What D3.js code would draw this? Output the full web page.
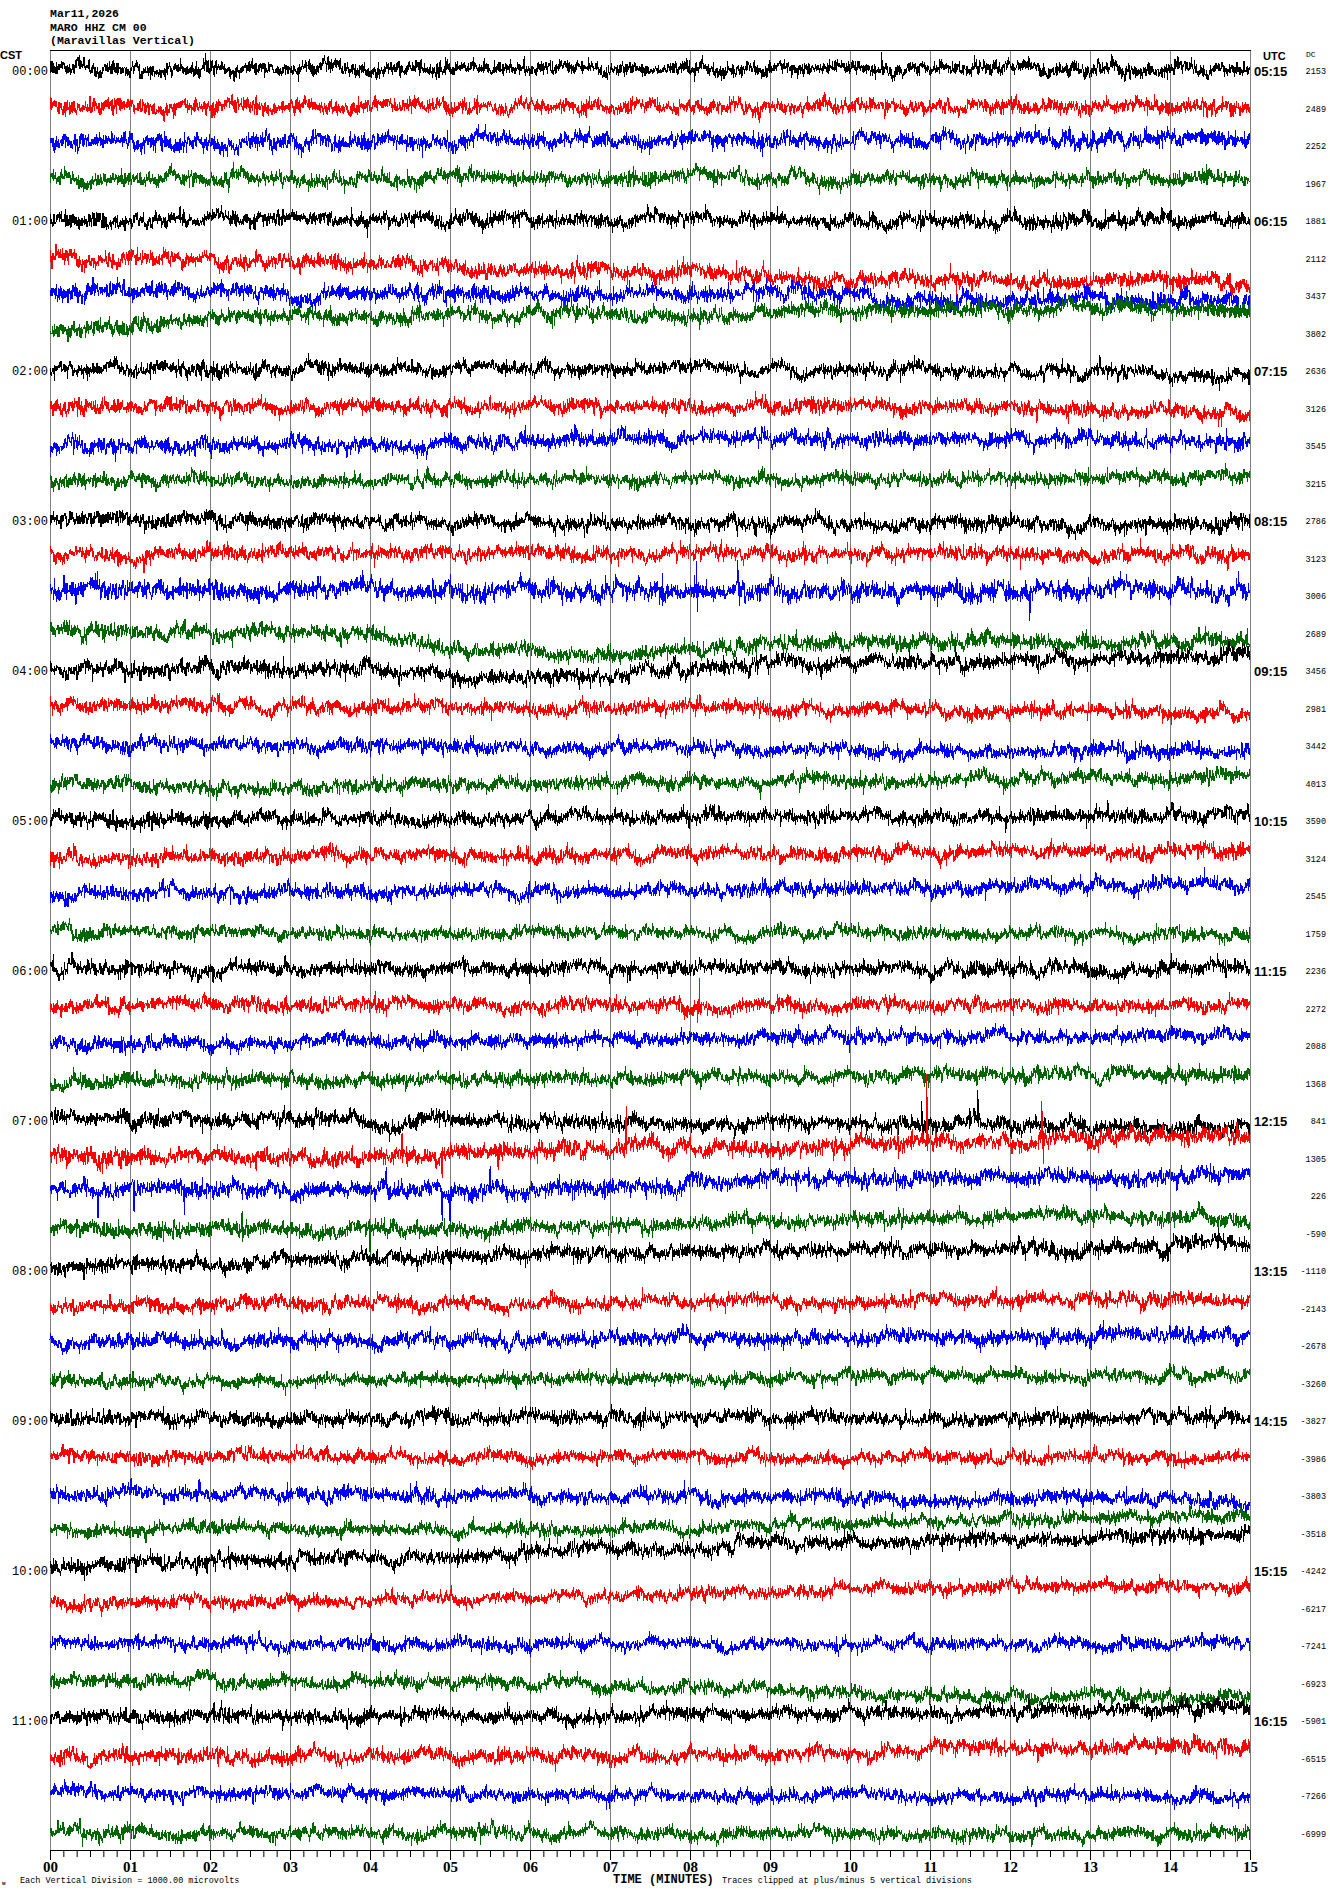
<!DOCTYPE html>
<html>
<head>
<meta charset="utf-8">
<script src="https://cdnjs.cloudflare.com/ajax/libs/d3/7.8.5/d3.min.js"></script>
<style>
  body { margin: 0; background: #fff; }
  svg text { fill: #000; }
</style>
</head>
<body>
<div id="heli"></div>
<script>
// ---- chart data ----
var headerLines = ["Mar11,2026", "MARO HHZ CM 00", "(Maravillas Vertical)"];
var hourLabelsCST = ["00:00","01:00","02:00","03:00","04:00","05:00","06:00","07:00","08:00","09:00","10:00","11:00"];
var hourLabelsUTC = ["05:15","06:15","07:15","08:15","09:15","10:15","11:15","12:15","13:15","14:15","15:15","16:15"];
var minuteTicks = [0,1,2,3,4,5,6,7,8,9,10,11,12,13,14,15];
var dcValues = [2153,2489,2252,1967,1881,2112,3437,3802,2636,3126,3545,3215,
                2786,3123,3006,2689,3456,2981,3442,4013,3590,3124,2545,1759,
                2236,2272,2088,1368,841,1305,226,-590,-1110,-2143,-2678,-3260,
                -3827,-3986,-3803,-3518,-4242,-6217,-7241,-6923,-5901,-6515,-7266,-6999];
// typical peak noise amplitude per trace, microvolts
var noiseAmp = [340,350,390,350, 350,370,390,370, 340,350,370,330,
                360,350,440,370, 370,340,340,340, 350,340,350,310,
                350,340,340,340, 360,390,390,350, 360,330,360,310,
                340,310,340,310, 350,310,310,330, 350,340,310,330];
// slow baseline drift per trace: [minute, microvolts] (up is positive)
var drift = [
  [[0,60],[15,60]], [[0,60],[15,60]], [[0,100],[15,200]], [[0,130],[15,130]],
  [[0,40],[15,0]], [[0,15],[3,-80],[5,-210],[8,-400],[9,-530],[11,-570],[15,-610]],
  [[0,110],[5,30],[8,80],[9.5,130],[10.5,-160],[12,-130],[15,-80]],
  [[0,80],[1.5,270],[2,400],[3,450],[5,480],[8,530],[12,670],[15,670]],
  [[0,60],[10,40],[15,-150]], [[0,60],[11,60],[13,-80],[15,-120]],
  [[0,-30],[5,80],[9,200],[12,200],[15,100]], [[0,60],[15,160]],
  [[0,60],[6,-40],[15,-120]], [[0,130],[15,130]], [[0,160],[15,160]],
  [[0,80],[4,0],[4.5,-190],[5,-350],[6,-530],[7,-590],[8,-450],[9,-320],[11,-190],[15,-250]],
  [[0,30],[4,50],[5,-30],[5.5,-160],[6.5,-160],[7,-100],[8,100],[9,160],[11,240],[13,290],[15,370]],
  [[0,100],[8,0],[15,-150]], [[0,60],[15,-180]], [[0,0],[2.5,-150],[5,-30],[15,200]],
  [[0,40],[15,150]], [[0,20],[15,200]], [[0,30],[15,300]], [[0,60],[15,-40]],
  [[0,60],[15,60]], [[0,80],[15,80]], [[0,60],[15,300]], [[0,30],[15,260]],
  [[0,80],[7,-50],[15,-150]], [[0,90],[4,0],[6,230],[8,280],[9,180],[10,410],[12,490],[15,580]],
  [[0,160],[5,160],[7.9,250],[8.1,430],[15,520]], [[0,90],[5,90],[8,280],[12,450],[15,360]],
  [[0,120],[5,380],[8,560],[12,560],[15,680]], [[0,60],[15,250]], [[0,100],[15,300]], [[0,60],[15,220]],
  [[0,80],[15,100]], [[0,60],[15,0]], [[0,80],[15,-100]], [[0,90],[8,140],[9,270],[11,310],[15,450]],
  [[0,110],[3,290],[5,430],[7,560],[8,610],[9,750],[11,830],[13,910],[15,1040]],
  [[0,140],[5,230],[8,410],[11,580],[15,580]], [[0,60],[15,60]],
  [[0,90],[4,50],[8,-80],[10,-260],[12,-350],[15,-400]],
  [[0,120],[8,160],[15,340]], [[0,40],[8,100],[15,380]], [[0,80],[15,-40]], [[0,40],[15,0]]
];
// isolated spikes: [trace, minute, microvolts]
var spikes = [
  [0,10.4,420],
  [14,7.66,780],[14,7.7,-420],[14,8.08,650],[14,8.1,-640],[14,8.6,600],[14,8.62,-450],[14,12.2,400],[14,12.25,-820],
  [25,8.1,-550],[25,8.12,800],
  [28,10.9,650],[28,11.6,700],
  [29,4.4,700],[29,4.9,-600],[29,5.6,-550],[29,6.3,-450],[29,7.2,930],[29,9.8,-500],[29,10.6,600],[29,10.96,1650],[29,12.4,1000],[29,12.42,-700],
  [30,0.6,-720],[30,1.05,-550],[30,1.68,-650],[30,4.2,450],[30,4.9,-550],[30,5.0,-750],[30,5.5,500],[30,7.9,-350],
  [31,2.4,500],[31,4.0,-650],[31,7.4,-450]
];
var traceColors = ["#000000", "#ff0000", "#0000ff", "#006600"];

// ---- layout ----
var W = 1330, H = 1894;
var plotLeft = 50, plotRight = 1250, plotTop = 50, axisY = 1850;
var firstRow = 71, rowStep = 37.5;
var nRows = dcValues.length;
var nSamp = 3600;

var svg = d3.select("#heli").append("svg")
  .attr("width", W).attr("height", H)
  .style("font-family", "'Liberation Mono', monospace");
svg.append("rect").attr("width", W).attr("height", H).attr("fill", "#fff");

var x = d3.scaleLinear().domain([0, 15]).range([plotLeft, plotRight]);
var rowY = d3.scaleLinear().domain([0, nRows - 1]).range([firstRow, firstRow + (nRows - 1) * rowStep]);

// grid
svg.append("g").selectAll("line")
  .data(minuteTicks).enter().append("line")
  .attr("x1", function(d) { return Math.round(x(d)) + 0.5; })
  .attr("x2", function(d) { return Math.round(x(d)) + 0.5; })
  .attr("y1", plotTop).attr("y2", axisY)
  .attr("stroke", "#808080").attr("stroke-width", 1);
svg.append("line")
  .attr("x1", plotLeft).attr("x2", plotRight + 1).attr("y1", plotTop + 0.5).attr("y2", plotTop + 0.5)
  .attr("stroke", "#000").attr("stroke-width", 1);

// seeded texture generator for the noise on each trace
function mulberry32(a) {
  return function() {
    a |= 0; a = a + 0x6D2B79F5 | 0;
    var t = Math.imul(a ^ a >>> 15, 1 | a);
    t = t + Math.imul(t ^ t >>> 7, 61 | t) ^ t;
    return ((t ^ t >>> 14) >>> 0) / 4294967296;
  };
}
function gauss(rng) {
  var u = Math.max(rng(), 1e-9), v = rng();
  return Math.sqrt(-2 * Math.log(u)) * Math.cos(2 * Math.PI * v);
}

var traces = svg.append("g").attr("class", "traces");
dcValues.forEach(function(dc, r) {
  var rng = mulberry32(r * 7919 + 131);
  var base = d3.scaleLinear()
    .domain(drift[r].map(function(k) { return k[0]; }))
    .range(drift[r].map(function(k) { return k[1]; }));
  var sigma = noiseAmp[r] / 3;
  var low = 0, vals = [];
  for (var i = 0; i < nSamp; i++) {
    low = 0.95 * low + Math.sqrt(1 - 0.95 * 0.95) * gauss(rng);
    vals.push(sigma * (0.62 * low + 0.8 * gauss(rng)));
  }
  spikes.filter(function(s) { return s[0] === r; }).forEach(function(s) {
    var k = Math.round(s[1] / 15 * (nSamp - 1));
    vals[k] += s[2];
    if (k > 0) vals[k - 1] += s[2] * 0.4;
    if (k < nSamp - 1) vals[k + 1] -= s[2] * 0.25;
  });
  var y = d3.scaleLinear().domain([-1000, 1000]).range([rowY(r) + rowStep, rowY(r) - rowStep]);
  var pts = vals.map(function(v, i) {
    var t = i / (nSamp - 1) * 15;
    var val = Math.max(-5000, Math.min(5000, base(t) + v));
    return [t, val];
  });
  traces.append("path")
    .datum(pts)
    .attr("fill", "none")
    .attr("stroke", traceColors[r % 4])
    .attr("stroke-width", 1)
    .attr("shape-rendering", "crispEdges")
    .attr("d", d3.line().x(function(d) { return x(d[0]); }).y(function(d) { return y(d[1]); }));
});

// header
svg.append("g").selectAll("text")
  .data(headerLines).enter().append("text")
  .attr("x", plotLeft).attr("y", function(d, i) { return 17 + i * 13.5; })
  .style("font-size", "11.5px").style("font-weight", "bold")
  .text(function(d) { return d; });

svg.append("text").attr("x", 0).attr("y", 59)
  .style("font-family", "'Liberation Sans', sans-serif").style("font-size", "11px").style("font-weight", "bold")
  .text("CST");
svg.append("text").attr("x", 1263).attr("y", 60)
  .style("font-family", "'Liberation Sans', sans-serif").style("font-size", "11px").style("font-weight", "bold")
  .text("UTC");
svg.append("text").attr("x", 1306).attr("y", 57)
  .style("font-size", "8px").text("DC");

// hour labels
svg.append("g").selectAll("text")
  .data(hourLabelsCST).enter().append("text")
  .attr("x", 48).attr("y", function(d, i) { return rowY(i * 4) + 4; })
  .attr("text-anchor", "end")
  .style("font-size", "12px")
  .text(function(d) { return d; });
svg.append("g").selectAll("text")
  .data(hourLabelsUTC).enter().append("text")
  .attr("x", 1254).attr("y", function(d, i) { return rowY(i * 4) + 5; })
  .style("font-family", "'Liberation Sans', sans-serif").style("font-size", "13px").style("font-weight", "bold")
  .text(function(d) { return d; });

// DC offsets
svg.append("g").selectAll("text")
  .data(dcValues).enter().append("text")
  .attr("x", 1326).attr("y", function(d, i) { return rowY(i) + 3; })
  .attr("text-anchor", "end")
  .style("font-size", "8.5px")
  .text(function(d) { return d; });

// time axis
var axisG = svg.append("g").attr("transform", "translate(0," + axisY + ")");
axisG.call(d3.axisBottom(x).tickValues(d3.range(0, 15 + 1e-9, 1 / 6)).tickSize(7).tickSizeOuter(0).tickFormat(""));
axisG.append("g").call(d3.axisBottom(x).tickValues(minuteTicks).tickSize(10).tickSizeOuter(0).tickPadding(1)
  .tickFormat(d3.format("02d")));
axisG.selectAll("path.domain").attr("stroke", "#000");
axisG.selectAll("line").attr("stroke", "#000");
axisG.selectAll("text")
  .style("font-family", "'Liberation Serif', serif").style("font-size", "15px").style("font-weight", "bold")
  .attr("fill", "#000");

// footer notes
svg.append("text").attr("x", 20).attr("y", 1883).style("font-size", "8.5px")
  .text("Each Vertical Division = 1000.00 microvolts");
svg.append("text").attr("x", 2).attr("y", 1885).style("font-size", "6px").text("ᴍ");
svg.append("text").attr("x", 613).attr("y", 1883).style("font-size", "12px").style("font-weight", "bold")
  .text("TIME (MINUTES)");
svg.append("text").attr("x", 722).attr("y", 1883).style("font-size", "8.5px")
  .text("Traces clipped at plus/minus 5 vertical divisions");
</script>
</body>
</html>
